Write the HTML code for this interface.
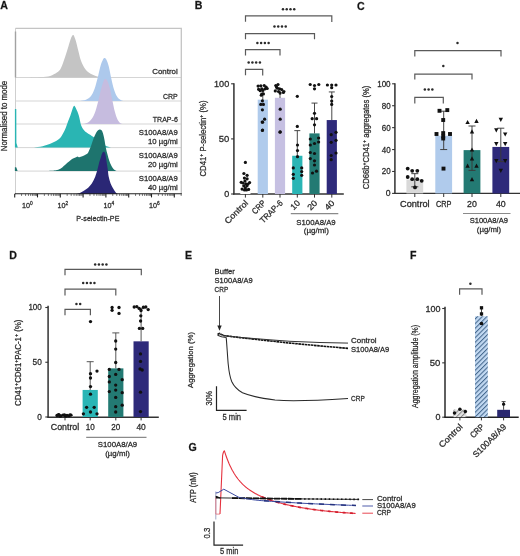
<!DOCTYPE html><html><head><meta charset="utf-8"><style>
html,body{margin:0;padding:0;background:#fff;width:520px;height:556px;overflow:hidden;}
svg{display:block;font-family:"Liberation Sans", sans-serif;will-change:transform;}
text{stroke:#2e2e2e;stroke-width:0.26px;}
</style></head><body>
<svg width="520" height="556" viewBox="0 0 520 556">
<rect width="520" height="556" fill="#fff"/>
<text x="0.30" y="9.30" font-size="10.60" text-anchor="start" fill="#111" font-weight="bold">A</text>
<line x1="15.50" y1="77.50" x2="181.30" y2="77.50" stroke="#d0d0d0" stroke-width="0.90"/>
<line x1="15.50" y1="101.00" x2="181.30" y2="101.00" stroke="#d0d0d0" stroke-width="0.90"/>
<line x1="15.50" y1="124.00" x2="181.30" y2="124.00" stroke="#d0d0d0" stroke-width="0.90"/>
<line x1="15.50" y1="147.60" x2="181.30" y2="147.60" stroke="#d0d0d0" stroke-width="0.90"/>
<line x1="15.50" y1="171.10" x2="181.30" y2="171.10" stroke="#d0d0d0" stroke-width="0.90"/>
<path d="M28.00,77.50 C30.13,77.43 37.10,77.37 40.80,77.10 C44.50,76.83 47.52,76.65 50.20,75.90 C52.88,75.15 55.10,73.93 56.90,72.60 C58.70,71.27 59.65,70.47 61.00,67.90 C62.35,65.33 63.77,60.78 65.00,57.20 C66.23,53.62 67.40,49.55 68.40,46.40 C69.40,43.25 70.33,40.10 71.00,38.30 C71.67,36.50 72.05,36.13 72.40,35.60 C72.75,35.07 72.85,35.07 73.10,35.10 C73.35,35.13 73.45,34.85 73.90,35.80 C74.35,36.75 75.03,38.18 75.80,40.80 C76.57,43.42 77.62,48.13 78.50,51.50 C79.38,54.87 79.98,58.08 81.10,61.00 C82.22,63.92 83.62,66.88 85.20,69.00 C86.78,71.12 88.58,72.47 90.60,73.70 C92.62,74.93 95.23,75.77 97.30,76.40 C99.37,77.03 102.05,77.32 103.00,77.50 L103.00,77.50 L28.00,77.50 Z" fill="#c4c4c4"/>
<path d="M80.00,101.00 C81.00,100.80 84.17,100.63 86.00,99.80 C87.83,98.97 89.58,97.80 91.00,96.00 C92.42,94.20 93.42,91.92 94.50,89.00 C95.58,86.08 96.50,82.33 97.50,78.50 C98.50,74.67 99.58,69.17 100.50,66.00 C101.42,62.83 102.33,60.83 103.00,59.50 C103.67,58.17 103.95,58.00 104.50,58.00 C105.05,58.00 105.58,58.08 106.30,59.50 C107.02,60.92 107.97,63.33 108.80,66.50 C109.63,69.67 110.43,74.67 111.30,78.50 C112.17,82.33 112.97,86.37 114.00,89.50 C115.03,92.63 116.22,95.47 117.50,97.30 C118.78,99.13 120.62,99.88 121.70,100.50 C122.78,101.12 123.62,100.92 124.00,101.00 L124.00,101.00 L80.00,101.00 Z" fill="#adc9ec"/>
<path d="M82.00,124.00 C82.92,123.78 85.83,123.62 87.50,122.70 C89.17,121.78 90.67,120.45 92.00,118.50 C93.33,116.55 94.42,114.08 95.50,111.00 C96.58,107.92 97.50,103.92 98.50,100.00 C99.50,96.08 100.58,90.78 101.50,87.50 C102.42,84.22 103.33,81.72 104.00,80.30 C104.67,78.88 104.97,78.97 105.50,79.00 C106.03,79.03 106.48,79.00 107.20,80.50 C107.92,82.00 108.95,84.75 109.80,88.00 C110.65,91.25 111.47,96.08 112.30,100.00 C113.13,103.92 113.93,108.25 114.80,111.50 C115.67,114.75 116.55,117.53 117.50,119.50 C118.45,121.47 119.58,122.55 120.50,123.30 C121.42,124.05 122.58,123.88 123.00,124.00 L123.00,124.00 L82.00,124.00 Z" fill="#c6bcdf"/>
<path d="M34.00,147.60 C35.45,147.38 39.72,147.05 42.70,146.30 C45.68,145.55 49.08,144.40 51.90,143.10 C54.72,141.80 57.75,140.10 59.60,138.50 C61.45,136.90 61.97,135.30 63.00,133.50 C64.03,131.70 64.93,129.78 65.80,127.70 C66.67,125.62 67.43,123.05 68.20,121.00 C68.97,118.95 69.67,117.43 70.40,115.40 C71.13,113.37 71.97,110.40 72.60,108.80 C73.23,107.20 73.65,105.88 74.20,105.80 C74.75,105.72 75.13,106.70 75.90,108.30 C76.67,109.90 77.92,112.52 78.80,115.40 C79.68,118.28 80.33,123.12 81.20,125.60 C82.07,128.08 82.98,129.07 84.00,130.30 C85.02,131.53 85.72,131.88 87.30,133.00 C88.88,134.12 91.38,135.50 93.50,137.00 C95.62,138.50 98.08,140.58 100.00,142.00 C101.92,143.42 103.17,144.57 105.00,145.50 C106.83,146.43 110.00,147.25 111.00,147.60 L111.00,147.60 L34.00,147.60 Z" fill="#2ab5b3"/>
<path d="M45.00,171.10 C46.17,171.05 50.17,170.93 52.00,170.80 C53.83,170.67 54.60,170.63 56.00,170.30 C57.40,169.97 59.07,169.55 60.40,168.80 C61.73,168.05 62.73,166.90 64.00,165.80 C65.27,164.70 66.92,163.13 68.00,162.20 C69.08,161.27 69.67,160.83 70.50,160.20 C71.33,159.57 72.17,158.85 73.00,158.40 C73.83,157.95 74.75,157.83 75.50,157.50 C76.25,157.17 76.88,156.43 77.50,156.40 C78.12,156.37 78.65,157.23 79.20,157.30 C79.75,157.37 79.98,157.12 80.80,156.80 C81.62,156.48 82.98,155.95 84.10,155.40 C85.22,154.85 86.62,154.43 87.50,153.50 C88.38,152.57 88.78,151.13 89.40,149.80 C90.02,148.47 90.57,147.22 91.20,145.50 C91.83,143.78 92.52,141.33 93.20,139.50 C93.88,137.67 94.62,135.92 95.30,134.50 C95.98,133.08 96.58,131.82 97.30,131.00 C98.02,130.18 98.85,129.67 99.60,129.60 C100.35,129.53 101.18,129.78 101.80,130.60 C102.42,131.42 102.85,132.93 103.30,134.50 C103.75,136.07 104.08,137.83 104.50,140.00 C104.92,142.17 105.30,145.07 105.80,147.50 C106.30,149.93 106.93,152.43 107.50,154.60 C108.07,156.77 108.65,158.87 109.20,160.50 C109.75,162.13 110.08,162.98 110.80,164.40 C111.52,165.82 112.55,167.88 113.50,169.00 C114.45,170.12 116.00,170.75 116.50,171.10 L116.50,171.10 L45.00,171.10 Z" fill="#1e746e"/>
<path d="M77.00,194.00 C77.78,193.68 79.95,193.05 81.70,192.10 C83.45,191.15 85.82,189.73 87.50,188.30 C89.18,186.87 90.52,185.43 91.80,183.50 C93.08,181.57 94.23,179.12 95.20,176.70 C96.17,174.28 96.92,171.45 97.60,169.00 C98.28,166.55 98.82,163.77 99.30,162.00 C99.78,160.23 100.02,159.87 100.50,158.40 C100.98,156.93 101.65,154.32 102.20,153.20 C102.75,152.08 103.30,151.65 103.80,151.70 C104.30,151.75 104.79,152.22 105.20,153.50 C105.61,154.78 105.83,156.82 106.25,159.40 C106.67,161.98 107.29,166.12 107.70,169.00 C108.11,171.88 108.22,174.28 108.70,176.70 C109.18,179.12 109.88,181.57 110.60,183.50 C111.32,185.43 112.20,186.87 113.00,188.30 C113.80,189.73 114.65,191.15 115.40,192.10 C116.15,193.05 117.15,193.68 117.50,194.00 L117.50,194.00 L77.00,194.00 Z" fill="#2a2775"/>
<path d="M15.50,28.30 H181.30 V194.00" fill="none" stroke="#c4c4c4" stroke-width="1.3"/>
<line x1="15.50" y1="28.00" x2="15.50" y2="194.50" stroke="#cfcfcf" stroke-width="1.00"/>
<rect x="14.80" y="31.50" width="1.40" height="46.00" fill="#a2a2a2"/>
<path d="M14.9,109 L16.3,109 L16.4,143 L17.8,147.6 L14.9,147.6 Z" fill="#2ab5b3"/>
<path d="M14.9,167.3 L16.2,167.3 L17.6,171.1 L14.9,171.1 Z" fill="#1e746e"/>
<line x1="15.00" y1="193.80" x2="181.80" y2="193.80" stroke="#222" stroke-width="1.10"/>
<line x1="14.70" y1="193.80" x2="14.70" y2="197.40" stroke="#222" stroke-width="1.10"/>
<line x1="21.56" y1="193.80" x2="21.56" y2="195.90" stroke="#333" stroke-width="0.70"/>
<line x1="25.58" y1="193.80" x2="25.58" y2="195.90" stroke="#333" stroke-width="0.70"/>
<line x1="28.43" y1="193.80" x2="28.43" y2="195.90" stroke="#333" stroke-width="0.70"/>
<line x1="30.64" y1="193.80" x2="30.64" y2="195.90" stroke="#333" stroke-width="0.70"/>
<line x1="32.44" y1="193.80" x2="32.44" y2="195.90" stroke="#333" stroke-width="0.70"/>
<line x1="33.97" y1="193.80" x2="33.97" y2="195.90" stroke="#333" stroke-width="0.70"/>
<line x1="35.29" y1="193.80" x2="35.29" y2="195.90" stroke="#333" stroke-width="0.70"/>
<line x1="36.46" y1="193.80" x2="36.46" y2="195.90" stroke="#333" stroke-width="0.70"/>
<line x1="37.50" y1="193.80" x2="37.50" y2="197.40" stroke="#222" stroke-width="1.10"/>
<line x1="44.36" y1="193.80" x2="44.36" y2="195.90" stroke="#333" stroke-width="0.70"/>
<line x1="48.38" y1="193.80" x2="48.38" y2="195.90" stroke="#333" stroke-width="0.70"/>
<line x1="51.23" y1="193.80" x2="51.23" y2="195.90" stroke="#333" stroke-width="0.70"/>
<line x1="53.44" y1="193.80" x2="53.44" y2="195.90" stroke="#333" stroke-width="0.70"/>
<line x1="55.24" y1="193.80" x2="55.24" y2="195.90" stroke="#333" stroke-width="0.70"/>
<line x1="56.77" y1="193.80" x2="56.77" y2="195.90" stroke="#333" stroke-width="0.70"/>
<line x1="58.09" y1="193.80" x2="58.09" y2="195.90" stroke="#333" stroke-width="0.70"/>
<line x1="59.26" y1="193.80" x2="59.26" y2="195.90" stroke="#333" stroke-width="0.70"/>
<line x1="60.30" y1="193.80" x2="60.30" y2="197.40" stroke="#222" stroke-width="1.10"/>
<line x1="67.16" y1="193.80" x2="67.16" y2="195.90" stroke="#333" stroke-width="0.70"/>
<line x1="71.18" y1="193.80" x2="71.18" y2="195.90" stroke="#333" stroke-width="0.70"/>
<line x1="74.03" y1="193.80" x2="74.03" y2="195.90" stroke="#333" stroke-width="0.70"/>
<line x1="76.24" y1="193.80" x2="76.24" y2="195.90" stroke="#333" stroke-width="0.70"/>
<line x1="78.04" y1="193.80" x2="78.04" y2="195.90" stroke="#333" stroke-width="0.70"/>
<line x1="79.57" y1="193.80" x2="79.57" y2="195.90" stroke="#333" stroke-width="0.70"/>
<line x1="80.89" y1="193.80" x2="80.89" y2="195.90" stroke="#333" stroke-width="0.70"/>
<line x1="82.06" y1="193.80" x2="82.06" y2="195.90" stroke="#333" stroke-width="0.70"/>
<line x1="83.10" y1="193.80" x2="83.10" y2="197.40" stroke="#222" stroke-width="1.10"/>
<line x1="89.96" y1="193.80" x2="89.96" y2="195.90" stroke="#333" stroke-width="0.70"/>
<line x1="93.98" y1="193.80" x2="93.98" y2="195.90" stroke="#333" stroke-width="0.70"/>
<line x1="96.83" y1="193.80" x2="96.83" y2="195.90" stroke="#333" stroke-width="0.70"/>
<line x1="99.04" y1="193.80" x2="99.04" y2="195.90" stroke="#333" stroke-width="0.70"/>
<line x1="100.84" y1="193.80" x2="100.84" y2="195.90" stroke="#333" stroke-width="0.70"/>
<line x1="102.37" y1="193.80" x2="102.37" y2="195.90" stroke="#333" stroke-width="0.70"/>
<line x1="103.69" y1="193.80" x2="103.69" y2="195.90" stroke="#333" stroke-width="0.70"/>
<line x1="104.86" y1="193.80" x2="104.86" y2="195.90" stroke="#333" stroke-width="0.70"/>
<line x1="105.90" y1="193.80" x2="105.90" y2="197.40" stroke="#222" stroke-width="1.10"/>
<line x1="112.76" y1="193.80" x2="112.76" y2="195.90" stroke="#333" stroke-width="0.70"/>
<line x1="116.78" y1="193.80" x2="116.78" y2="195.90" stroke="#333" stroke-width="0.70"/>
<line x1="119.63" y1="193.80" x2="119.63" y2="195.90" stroke="#333" stroke-width="0.70"/>
<line x1="121.84" y1="193.80" x2="121.84" y2="195.90" stroke="#333" stroke-width="0.70"/>
<line x1="123.64" y1="193.80" x2="123.64" y2="195.90" stroke="#333" stroke-width="0.70"/>
<line x1="125.17" y1="193.80" x2="125.17" y2="195.90" stroke="#333" stroke-width="0.70"/>
<line x1="126.49" y1="193.80" x2="126.49" y2="195.90" stroke="#333" stroke-width="0.70"/>
<line x1="127.66" y1="193.80" x2="127.66" y2="195.90" stroke="#333" stroke-width="0.70"/>
<line x1="128.70" y1="193.80" x2="128.70" y2="197.40" stroke="#222" stroke-width="1.10"/>
<line x1="135.56" y1="193.80" x2="135.56" y2="195.90" stroke="#333" stroke-width="0.70"/>
<line x1="139.58" y1="193.80" x2="139.58" y2="195.90" stroke="#333" stroke-width="0.70"/>
<line x1="142.43" y1="193.80" x2="142.43" y2="195.90" stroke="#333" stroke-width="0.70"/>
<line x1="144.64" y1="193.80" x2="144.64" y2="195.90" stroke="#333" stroke-width="0.70"/>
<line x1="146.44" y1="193.80" x2="146.44" y2="195.90" stroke="#333" stroke-width="0.70"/>
<line x1="147.97" y1="193.80" x2="147.97" y2="195.90" stroke="#333" stroke-width="0.70"/>
<line x1="149.29" y1="193.80" x2="149.29" y2="195.90" stroke="#333" stroke-width="0.70"/>
<line x1="150.46" y1="193.80" x2="150.46" y2="195.90" stroke="#333" stroke-width="0.70"/>
<line x1="151.50" y1="193.80" x2="151.50" y2="197.40" stroke="#222" stroke-width="1.10"/>
<line x1="158.36" y1="193.80" x2="158.36" y2="195.90" stroke="#333" stroke-width="0.70"/>
<line x1="162.38" y1="193.80" x2="162.38" y2="195.90" stroke="#333" stroke-width="0.70"/>
<line x1="165.23" y1="193.80" x2="165.23" y2="195.90" stroke="#333" stroke-width="0.70"/>
<line x1="167.44" y1="193.80" x2="167.44" y2="195.90" stroke="#333" stroke-width="0.70"/>
<line x1="169.24" y1="193.80" x2="169.24" y2="195.90" stroke="#333" stroke-width="0.70"/>
<line x1="170.77" y1="193.80" x2="170.77" y2="195.90" stroke="#333" stroke-width="0.70"/>
<line x1="172.09" y1="193.80" x2="172.09" y2="195.90" stroke="#333" stroke-width="0.70"/>
<line x1="173.26" y1="193.80" x2="173.26" y2="195.90" stroke="#333" stroke-width="0.70"/>
<line x1="174.30" y1="193.80" x2="174.30" y2="197.40" stroke="#222" stroke-width="1.10"/>
<line x1="181.16" y1="193.80" x2="181.16" y2="195.90" stroke="#333" stroke-width="0.70"/>
<text x="22.00" y="208.30" font-size="7.2" text-anchor="start" fill="#262626">10<tspan dy="-3.2" font-size="4.8">0</tspan></text>
<text x="57.50" y="208.30" font-size="7.2" text-anchor="start" fill="#262626">10<tspan dy="-3.2" font-size="4.8">2</tspan></text>
<text x="103.40" y="208.30" font-size="7.2" text-anchor="start" fill="#262626">10<tspan dy="-3.2" font-size="4.8">4</tspan></text>
<text x="149.00" y="208.30" font-size="7.2" text-anchor="start" fill="#262626">10<tspan dy="-3.2" font-size="4.8">6</tspan></text>
<text x="76.20" y="220.60" font-size="8.00" text-anchor="start" fill="#262626" font-weight="normal" textLength="43.20" lengthAdjust="spacingAndGlyphs">P-selectin-PE</text>
<text x="7.00" y="116.00" font-size="8.30" text-anchor="middle" fill="#262626" font-weight="normal" transform="rotate(-90 7.00 116.00)" textLength="70.50" lengthAdjust="spacingAndGlyphs">Normalised to mode</text>
<text x="177.80" y="74.00" font-size="8.00" text-anchor="end" fill="#262626" font-weight="normal" textLength="25.60" lengthAdjust="spacingAndGlyphs">Control</text>
<text x="177.80" y="99.00" font-size="8.00" text-anchor="end" fill="#262626" font-weight="normal" textLength="14.80" lengthAdjust="spacingAndGlyphs">CRP</text>
<text x="177.80" y="121.60" font-size="8.00" text-anchor="end" fill="#262626" font-weight="normal" textLength="25.00" lengthAdjust="spacingAndGlyphs">TRAP-6</text>
<text x="177.80" y="134.90" font-size="8.00" text-anchor="end" fill="#262626" font-weight="normal" textLength="39.00" lengthAdjust="spacingAndGlyphs">S100A8/A9</text>
<text x="177.80" y="143.50" font-size="8.00" text-anchor="end" fill="#262626" font-weight="normal" textLength="29.80" lengthAdjust="spacingAndGlyphs">10 µg/ml</text>
<text x="177.80" y="158.00" font-size="8.00" text-anchor="end" fill="#262626" font-weight="normal" textLength="39.00" lengthAdjust="spacingAndGlyphs">S100A8/A9</text>
<text x="177.80" y="166.60" font-size="8.00" text-anchor="end" fill="#262626" font-weight="normal" textLength="29.80" lengthAdjust="spacingAndGlyphs">20 µg/ml</text>
<text x="177.80" y="181.20" font-size="8.00" text-anchor="end" fill="#262626" font-weight="normal" textLength="39.00" lengthAdjust="spacingAndGlyphs">S100A8/A9</text>
<text x="177.80" y="189.90" font-size="8.00" text-anchor="end" fill="#262626" font-weight="normal" textLength="29.80" lengthAdjust="spacingAndGlyphs">40 µg/ml</text>
<text x="194.70" y="9.20" font-size="10.60" text-anchor="start" fill="#111" font-weight="bold">B</text>
<line x1="233.90" y1="83.20" x2="233.90" y2="194.60" stroke="#4a4a4a" stroke-width="1.70"/>
<line x1="233.10" y1="194.00" x2="343.80" y2="194.00" stroke="#333" stroke-width="1.40"/>
<line x1="231.10" y1="194.00" x2="233.90" y2="194.00" stroke="#333" stroke-width="1.10"/>
<text x="229.20" y="197.00" font-size="8.60" text-anchor="end" fill="#262626" font-weight="normal" textLength="5.00" lengthAdjust="spacingAndGlyphs">0</text>
<line x1="231.10" y1="138.90" x2="233.90" y2="138.90" stroke="#333" stroke-width="1.10"/>
<text x="229.20" y="141.90" font-size="8.60" text-anchor="end" fill="#262626" font-weight="normal" textLength="10.50" lengthAdjust="spacingAndGlyphs">50</text>
<line x1="231.10" y1="83.80" x2="233.90" y2="83.80" stroke="#333" stroke-width="1.10"/>
<text x="229.20" y="86.80" font-size="8.60" text-anchor="end" fill="#262626" font-weight="normal" textLength="15.20" lengthAdjust="spacingAndGlyphs">100</text>
<rect x="240.30" y="184.08" width="10.20" height="9.92" fill="#ffffff"/>
<rect x="257.70" y="99.67" width="10.20" height="94.33" fill="#b0cbec"/>
<rect x="274.90" y="97.80" width="10.20" height="96.20" fill="#c6c0e2"/>
<rect x="292.20" y="155.76" width="10.20" height="38.24" fill="#2ab5b5"/>
<rect x="309.40" y="133.39" width="10.20" height="60.61" fill="#237a73"/>
<rect x="326.70" y="120.06" width="10.20" height="73.94" fill="#2e2a7a"/>
<line x1="245.40" y1="194.00" x2="245.40" y2="197.60" stroke="#333" stroke-width="1.00"/>
<line x1="262.80" y1="194.00" x2="262.80" y2="197.60" stroke="#333" stroke-width="1.00"/>
<line x1="280.00" y1="194.00" x2="280.00" y2="197.60" stroke="#333" stroke-width="1.00"/>
<line x1="297.30" y1="194.00" x2="297.30" y2="197.60" stroke="#333" stroke-width="1.00"/>
<line x1="314.50" y1="194.00" x2="314.50" y2="197.60" stroke="#333" stroke-width="1.00"/>
<line x1="331.80" y1="194.00" x2="331.80" y2="197.60" stroke="#333" stroke-width="1.00"/>
<line x1="297.30" y1="130.63" x2="297.30" y2="155.76" stroke="#333" stroke-width="0.90"/>
<line x1="294.30" y1="130.63" x2="300.30" y2="130.63" stroke="#333" stroke-width="0.90"/>
<line x1="314.50" y1="103.08" x2="314.50" y2="133.39" stroke="#333" stroke-width="0.90"/>
<line x1="311.50" y1="103.08" x2="317.50" y2="103.08" stroke="#333" stroke-width="0.90"/>
<line x1="331.80" y1="91.95" x2="331.80" y2="120.06" stroke="#333" stroke-width="0.90"/>
<line x1="328.80" y1="91.95" x2="334.80" y2="91.95" stroke="#333" stroke-width="0.90"/>
<line x1="262.80" y1="92.00" x2="262.80" y2="100.00" stroke="#444" stroke-width="0.90"/>
<line x1="280.00" y1="91.00" x2="280.00" y2="98.00" stroke="#444" stroke-width="0.90"/>
<circle cx="245.40" cy="162.40" r="1.60" fill="#111"/>
<circle cx="243.90" cy="173.50" r="1.60" fill="#111"/>
<circle cx="247.10" cy="175.30" r="1.60" fill="#111"/>
<circle cx="244.40" cy="178.10" r="1.60" fill="#111"/>
<circle cx="247.10" cy="178.80" r="1.60" fill="#111"/>
<circle cx="241.20" cy="182.30" r="1.60" fill="#111"/>
<circle cx="249.60" cy="182.60" r="1.60" fill="#111"/>
<circle cx="245.70" cy="183.90" r="1.60" fill="#111"/>
<circle cx="243.80" cy="185.80" r="1.60" fill="#111"/>
<circle cx="247.00" cy="185.80" r="1.60" fill="#111"/>
<circle cx="242.10" cy="189.10" r="1.60" fill="#111"/>
<circle cx="248.60" cy="189.40" r="1.60" fill="#111"/>
<circle cx="245.40" cy="187.80" r="1.60" fill="#111"/>
<circle cx="245.00" cy="181.00" r="1.60" fill="#111"/>
<circle cx="243.00" cy="183.00" r="1.60" fill="#111"/>
<circle cx="248.00" cy="184.00" r="1.60" fill="#111"/>
<circle cx="244.50" cy="190.00" r="1.60" fill="#111"/>
<circle cx="246.50" cy="190.00" r="1.60" fill="#111"/>
<circle cx="258.10" cy="86.10" r="1.60" fill="#111"/>
<circle cx="260.80" cy="85.80" r="1.60" fill="#111"/>
<circle cx="264.20" cy="85.50" r="1.60" fill="#111"/>
<circle cx="266.10" cy="87.10" r="1.60" fill="#111"/>
<circle cx="258.60" cy="89.30" r="1.60" fill="#111"/>
<circle cx="261.80" cy="88.80" r="1.60" fill="#111"/>
<circle cx="265.10" cy="88.80" r="1.60" fill="#111"/>
<circle cx="267.20" cy="88.50" r="1.60" fill="#111"/>
<circle cx="260.20" cy="90.70" r="1.60" fill="#111"/>
<circle cx="262.90" cy="90.40" r="1.60" fill="#111"/>
<circle cx="261.80" cy="94.10" r="1.60" fill="#111"/>
<circle cx="263.40" cy="93.90" r="1.60" fill="#111"/>
<circle cx="261.30" cy="95.20" r="1.60" fill="#111"/>
<circle cx="262.40" cy="100.80" r="1.60" fill="#111"/>
<circle cx="260.80" cy="104.40" r="1.60" fill="#111"/>
<circle cx="263.40" cy="104.40" r="1.60" fill="#111"/>
<circle cx="262.40" cy="109.80" r="1.60" fill="#111"/>
<circle cx="264.60" cy="119.20" r="1.60" fill="#111"/>
<circle cx="262.20" cy="122.10" r="1.60" fill="#111"/>
<circle cx="262.40" cy="130.40" r="1.60" fill="#111"/>
<circle cx="262.60" cy="122.20" r="1.60" fill="#111"/>
<circle cx="262.60" cy="130.00" r="1.60" fill="#111"/>
<circle cx="275.80" cy="85.50" r="1.60" fill="#111"/>
<circle cx="278.00" cy="84.50" r="1.60" fill="#111"/>
<circle cx="277.40" cy="88.20" r="1.60" fill="#111"/>
<circle cx="279.60" cy="88.80" r="1.60" fill="#111"/>
<circle cx="275.30" cy="90.90" r="1.60" fill="#111"/>
<circle cx="278.50" cy="91.50" r="1.60" fill="#111"/>
<circle cx="281.70" cy="89.60" r="1.60" fill="#111"/>
<circle cx="283.90" cy="91.50" r="1.60" fill="#111"/>
<circle cx="280.10" cy="93.10" r="1.60" fill="#111"/>
<circle cx="283.40" cy="92.50" r="1.60" fill="#111"/>
<circle cx="276.50" cy="87.00" r="1.60" fill="#111"/>
<circle cx="280.20" cy="109.20" r="1.60" fill="#111"/>
<circle cx="280.20" cy="119.20" r="1.60" fill="#111"/>
<circle cx="280.20" cy="131.80" r="1.60" fill="#111"/>
<circle cx="280.00" cy="132.20" r="1.60" fill="#111"/>
<circle cx="297.30" cy="96.30" r="1.60" fill="#111"/>
<circle cx="297.30" cy="126.40" r="1.60" fill="#111"/>
<circle cx="297.50" cy="145.00" r="1.60" fill="#111"/>
<circle cx="297.50" cy="150.60" r="1.60" fill="#111"/>
<circle cx="297.50" cy="156.70" r="1.60" fill="#111"/>
<circle cx="293.30" cy="167.90" r="1.60" fill="#111"/>
<circle cx="301.70" cy="167.90" r="1.60" fill="#111"/>
<circle cx="301.70" cy="171.60" r="1.60" fill="#111"/>
<circle cx="293.30" cy="174.30" r="1.60" fill="#111"/>
<circle cx="301.70" cy="175.30" r="1.60" fill="#111"/>
<circle cx="293.30" cy="178.30" r="1.60" fill="#111"/>
<circle cx="310.20" cy="84.50" r="1.60" fill="#111"/>
<circle cx="314.50" cy="85.50" r="1.60" fill="#111"/>
<circle cx="318.80" cy="84.50" r="1.60" fill="#111"/>
<circle cx="314.50" cy="88.80" r="1.60" fill="#111"/>
<circle cx="314.50" cy="113.30" r="1.60" fill="#111"/>
<circle cx="312.20" cy="118.70" r="1.60" fill="#111"/>
<circle cx="316.60" cy="118.70" r="1.60" fill="#111"/>
<circle cx="314.50" cy="124.80" r="1.60" fill="#111"/>
<circle cx="310.30" cy="139.00" r="1.60" fill="#111"/>
<circle cx="318.60" cy="138.00" r="1.60" fill="#111"/>
<circle cx="318.60" cy="142.00" r="1.60" fill="#111"/>
<circle cx="314.50" cy="143.50" r="1.60" fill="#111"/>
<circle cx="310.30" cy="145.00" r="1.60" fill="#111"/>
<circle cx="310.30" cy="152.50" r="1.60" fill="#111"/>
<circle cx="314.50" cy="153.50" r="1.60" fill="#111"/>
<circle cx="310.30" cy="158.60" r="1.60" fill="#111"/>
<circle cx="314.50" cy="160.80" r="1.60" fill="#111"/>
<circle cx="314.50" cy="165.00" r="1.60" fill="#111"/>
<circle cx="316.50" cy="171.20" r="1.60" fill="#111"/>
<circle cx="312.50" cy="173.00" r="1.60" fill="#111"/>
<circle cx="327.40" cy="85.00" r="1.60" fill="#111"/>
<circle cx="331.70" cy="85.00" r="1.60" fill="#111"/>
<circle cx="336.00" cy="85.00" r="1.60" fill="#111"/>
<circle cx="331.70" cy="87.70" r="1.60" fill="#111"/>
<circle cx="331.70" cy="96.50" r="1.60" fill="#111"/>
<circle cx="331.70" cy="101.10" r="1.60" fill="#111"/>
<circle cx="331.70" cy="104.40" r="1.60" fill="#111"/>
<circle cx="331.20" cy="134.70" r="1.60" fill="#111"/>
<circle cx="336.00" cy="132.30" r="1.60" fill="#111"/>
<circle cx="336.00" cy="140.30" r="1.60" fill="#111"/>
<circle cx="331.20" cy="142.30" r="1.60" fill="#111"/>
<circle cx="336.00" cy="153.00" r="1.60" fill="#111"/>
<circle cx="331.20" cy="155.50" r="1.60" fill="#111"/>
<circle cx="331.20" cy="159.70" r="1.60" fill="#111"/>
<path d="M245.50,21.80 V15.90 H331.80 V22.00" fill="none" stroke="#5a5a5a" stroke-width="1.2"/>
<circle cx="282.98" cy="9.15" r="1.25" fill="#2a2a2a"/>
<circle cx="286.73" cy="9.15" r="1.25" fill="#2a2a2a"/>
<circle cx="290.48" cy="9.15" r="1.25" fill="#2a2a2a"/>
<circle cx="294.23" cy="9.15" r="1.25" fill="#2a2a2a"/>
<path d="M245.50,39.20 V33.60 H314.50 V39.30" fill="none" stroke="#5a5a5a" stroke-width="1.2"/>
<circle cx="274.48" cy="26.60" r="1.25" fill="#2a2a2a"/>
<circle cx="278.23" cy="26.60" r="1.25" fill="#2a2a2a"/>
<circle cx="281.98" cy="26.60" r="1.25" fill="#2a2a2a"/>
<circle cx="285.73" cy="26.60" r="1.25" fill="#2a2a2a"/>
<path d="M245.50,55.40 V49.70 H280.00 V55.60" fill="none" stroke="#5a5a5a" stroke-width="1.2"/>
<circle cx="257.38" cy="43.10" r="1.25" fill="#2a2a2a"/>
<circle cx="261.12" cy="43.10" r="1.25" fill="#2a2a2a"/>
<circle cx="264.88" cy="43.10" r="1.25" fill="#2a2a2a"/>
<circle cx="268.62" cy="43.10" r="1.25" fill="#2a2a2a"/>
<path d="M245.50,75.20 V69.30 H262.70 V75.40" fill="none" stroke="#5a5a5a" stroke-width="1.2"/>
<circle cx="248.68" cy="62.40" r="1.25" fill="#2a2a2a"/>
<circle cx="252.43" cy="62.40" r="1.25" fill="#2a2a2a"/>
<circle cx="256.18" cy="62.40" r="1.25" fill="#2a2a2a"/>
<circle cx="259.93" cy="62.40" r="1.25" fill="#2a2a2a"/>
<text x="248.80" y="203.60" font-size="8.50" text-anchor="end" fill="#262626" font-weight="normal" transform="rotate(-45 248.80 203.60)" textLength="29.50" lengthAdjust="spacingAndGlyphs">Control</text>
<text x="266.20" y="203.60" font-size="8.50" text-anchor="end" fill="#262626" font-weight="normal" transform="rotate(-45 266.20 203.60)" textLength="15.60" lengthAdjust="spacingAndGlyphs">CRP</text>
<text x="283.40" y="203.60" font-size="8.50" text-anchor="end" fill="#262626" font-weight="normal" transform="rotate(-45 283.40 203.60)" textLength="28.50" lengthAdjust="spacingAndGlyphs">TRAP-6</text>
<text x="300.70" y="203.60" font-size="8.50" text-anchor="end" fill="#262626" font-weight="normal" transform="rotate(-45 300.70 203.60)" textLength="9.80" lengthAdjust="spacingAndGlyphs">10</text>
<text x="317.90" y="203.60" font-size="8.50" text-anchor="end" fill="#262626" font-weight="normal" transform="rotate(-45 317.90 203.60)" textLength="10.20" lengthAdjust="spacingAndGlyphs">20</text>
<text x="335.20" y="203.60" font-size="8.50" text-anchor="end" fill="#262626" font-weight="normal" transform="rotate(-45 335.20 203.60)" textLength="10.20" lengthAdjust="spacingAndGlyphs">40</text>
<line x1="290.80" y1="213.70" x2="338.30" y2="213.70" stroke="#8a8a8a" stroke-width="1.20"/>
<text x="316.00" y="224.50" font-size="7.80" text-anchor="middle" fill="#262626" font-weight="normal" textLength="39.30" lengthAdjust="spacingAndGlyphs">S100A8/A9</text>
<text x="316.30" y="232.80" font-size="7.80" text-anchor="middle" fill="#262626" font-weight="normal" textLength="25.00" lengthAdjust="spacingAndGlyphs">(µg/ml)</text>
<text x="206.00" y="138.50" font-size="8.40" text-anchor="middle" fill="#262626" transform="rotate(-90 206.00 138.50)" textLength="76.00" lengthAdjust="spacingAndGlyphs"><tspan>CD41</tspan><tspan dy="-3.02" font-size="5.54">+</tspan><tspan dy="3.02"> P-selectin</tspan><tspan dy="-3.02" font-size="5.54">+</tspan><tspan dy="3.02"> (%)</tspan></text>
<text x="357.00" y="9.50" font-size="10.60" text-anchor="start" fill="#111" font-weight="bold">C</text>
<line x1="394.90" y1="83.20" x2="394.90" y2="194.00" stroke="#4a4a4a" stroke-width="1.70"/>
<line x1="394.10" y1="193.40" x2="520.00" y2="193.40" stroke="#333" stroke-width="1.40"/>
<line x1="392.10" y1="193.40" x2="394.90" y2="193.40" stroke="#333" stroke-width="1.10"/>
<text x="390.60" y="196.35" font-size="8.30" text-anchor="end" fill="#262626" font-weight="normal" textLength="4.80" lengthAdjust="spacingAndGlyphs">0</text>
<line x1="392.10" y1="171.48" x2="394.90" y2="171.48" stroke="#333" stroke-width="1.10"/>
<text x="390.60" y="174.43" font-size="8.30" text-anchor="end" fill="#262626" font-weight="normal" textLength="8.90" lengthAdjust="spacingAndGlyphs">20</text>
<line x1="392.10" y1="149.56" x2="394.90" y2="149.56" stroke="#333" stroke-width="1.10"/>
<text x="390.60" y="152.51" font-size="8.30" text-anchor="end" fill="#262626" font-weight="normal" textLength="8.90" lengthAdjust="spacingAndGlyphs">40</text>
<line x1="392.10" y1="127.64" x2="394.90" y2="127.64" stroke="#333" stroke-width="1.10"/>
<text x="390.60" y="130.59" font-size="8.30" text-anchor="end" fill="#262626" font-weight="normal" textLength="8.90" lengthAdjust="spacingAndGlyphs">60</text>
<line x1="392.10" y1="105.72" x2="394.90" y2="105.72" stroke="#333" stroke-width="1.10"/>
<text x="390.60" y="108.67" font-size="8.30" text-anchor="end" fill="#262626" font-weight="normal" textLength="8.90" lengthAdjust="spacingAndGlyphs">80</text>
<line x1="392.10" y1="83.80" x2="394.90" y2="83.80" stroke="#333" stroke-width="1.10"/>
<text x="390.60" y="86.75" font-size="8.30" text-anchor="end" fill="#262626" font-weight="normal" textLength="13.40" lengthAdjust="spacingAndGlyphs">100</text>
<rect x="406.40" y="179.59" width="16.80" height="13.81" fill="#d9d9d9"/>
<line x1="414.80" y1="193.40" x2="414.80" y2="197.00" stroke="#333" stroke-width="1.00"/>
<rect x="435.30" y="135.75" width="16.80" height="57.65" fill="#b0cbec"/>
<line x1="443.70" y1="193.40" x2="443.70" y2="197.00" stroke="#333" stroke-width="1.00"/>
<rect x="463.60" y="150.11" width="16.80" height="43.29" fill="#237a73"/>
<line x1="472.00" y1="193.40" x2="472.00" y2="197.00" stroke="#333" stroke-width="1.00"/>
<rect x="492.40" y="146.93" width="16.80" height="46.47" fill="#2e2a7a"/>
<line x1="500.80" y1="193.40" x2="500.80" y2="197.00" stroke="#333" stroke-width="1.00"/>
<line x1="414.80" y1="173.67" x2="414.80" y2="186.82" stroke="#3a3a3a" stroke-width="0.95"/>
<line x1="411.30" y1="173.67" x2="418.30" y2="173.67" stroke="#3a3a3a" stroke-width="0.95"/>
<line x1="411.30" y1="186.82" x2="418.30" y2="186.82" stroke="#3a3a3a" stroke-width="0.95"/>
<line x1="443.70" y1="111.20" x2="443.70" y2="149.56" stroke="#3a3a3a" stroke-width="0.95"/>
<line x1="440.20" y1="111.20" x2="447.20" y2="111.20" stroke="#3a3a3a" stroke-width="0.95"/>
<line x1="440.20" y1="149.56" x2="447.20" y2="149.56" stroke="#3a3a3a" stroke-width="0.95"/>
<line x1="472.00" y1="126.00" x2="472.00" y2="170.38" stroke="#3a3a3a" stroke-width="0.95"/>
<line x1="468.50" y1="126.00" x2="475.50" y2="126.00" stroke="#3a3a3a" stroke-width="0.95"/>
<line x1="468.50" y1="170.38" x2="475.50" y2="170.38" stroke="#3a3a3a" stroke-width="0.95"/>
<line x1="500.80" y1="128.19" x2="500.80" y2="161.62" stroke="#3a3a3a" stroke-width="0.95"/>
<line x1="497.30" y1="128.19" x2="504.30" y2="128.19" stroke="#3a3a3a" stroke-width="0.95"/>
<line x1="497.30" y1="161.62" x2="504.30" y2="161.62" stroke="#3a3a3a" stroke-width="0.95"/>
<circle cx="407.70" cy="168.60" r="1.90" fill="#111"/>
<circle cx="412.20" cy="170.80" r="1.90" fill="#111"/>
<circle cx="417.30" cy="170.80" r="1.90" fill="#111"/>
<circle cx="407.70" cy="177.00" r="1.90" fill="#111"/>
<circle cx="412.20" cy="179.20" r="1.90" fill="#111"/>
<circle cx="417.30" cy="179.20" r="1.90" fill="#111"/>
<circle cx="421.70" cy="180.80" r="1.90" fill="#111"/>
<circle cx="415.00" cy="187.40" r="1.90" fill="#111"/>
<rect x="437.55" y="108.85" width="3.90" height="3.90" fill="#111"/>
<rect x="445.35" y="108.15" width="3.90" height="3.90" fill="#111"/>
<rect x="441.25" y="118.05" width="3.90" height="3.90" fill="#111"/>
<rect x="434.55" y="132.05" width="3.90" height="3.90" fill="#111"/>
<rect x="441.25" y="131.15" width="3.90" height="3.90" fill="#111"/>
<rect x="441.25" y="134.55" width="3.90" height="3.90" fill="#111"/>
<rect x="441.25" y="136.55" width="3.90" height="3.90" fill="#111"/>
<rect x="448.05" y="132.05" width="3.90" height="3.90" fill="#111"/>
<rect x="441.55" y="166.65" width="3.90" height="3.90" fill="#111"/>
<polygon points="467.60,119.89 465.40,124.01 469.80,124.01" fill="#111"/>
<polygon points="476.50,118.79 474.30,122.91 478.70,122.91" fill="#111"/>
<polygon points="472.00,129.29 469.80,133.41 474.20,133.41" fill="#111"/>
<polygon points="472.00,147.39 469.80,151.51 474.20,151.51" fill="#111"/>
<polygon points="472.00,156.29 469.80,160.41 474.20,160.41" fill="#111"/>
<polygon points="467.60,163.59 465.40,167.71 469.80,167.71" fill="#111"/>
<polygon points="476.50,163.59 474.30,167.71 478.70,167.71" fill="#111"/>
<polygon points="472.00,177.09 469.80,181.21 474.20,181.21" fill="#111"/>
<polygon points="500.80,121.91 498.60,117.79 503.00,117.79" fill="#111"/>
<polygon points="496.30,132.41 494.10,128.29 498.50,128.29" fill="#111"/>
<polygon points="505.20,136.51 503.00,132.39 507.40,132.39" fill="#111"/>
<polygon points="496.30,146.21 494.10,142.09 498.50,142.09" fill="#111"/>
<polygon points="505.20,146.21 503.00,142.09 507.40,142.09" fill="#111"/>
<polygon points="496.30,163.21 494.10,159.09 498.50,159.09" fill="#111"/>
<polygon points="505.20,163.21 503.00,159.09 507.40,159.09" fill="#111"/>
<polygon points="500.80,172.91 498.60,168.79 503.00,168.79" fill="#111"/>
<path d="M414.80,56.60 V50.60 H501.00 V56.60" fill="none" stroke="#5a5a5a" stroke-width="1.2"/>
<circle cx="457.50" cy="43.00" r="1.25" fill="#2a2a2a"/>
<path d="M414.80,79.50 V74.20 H472.00 V79.50" fill="none" stroke="#5a5a5a" stroke-width="1.2"/>
<circle cx="443.30" cy="65.90" r="1.25" fill="#2a2a2a"/>
<path d="M414.80,103.40 V97.40 H443.30 V103.40" fill="none" stroke="#5a5a5a" stroke-width="1.2"/>
<circle cx="424.85" cy="89.60" r="1.25" fill="#2a2a2a"/>
<circle cx="428.60" cy="89.60" r="1.25" fill="#2a2a2a"/>
<circle cx="432.35" cy="89.60" r="1.25" fill="#2a2a2a"/>
<text x="414.80" y="206.50" font-size="8.40" text-anchor="middle" fill="#262626" font-weight="normal" textLength="29.60" lengthAdjust="spacingAndGlyphs">Control</text>
<text x="443.70" y="206.50" font-size="8.40" text-anchor="middle" fill="#262626" font-weight="normal" textLength="15.60" lengthAdjust="spacingAndGlyphs">CRP</text>
<text x="472.00" y="206.50" font-size="8.40" text-anchor="middle" fill="#262626" font-weight="normal" textLength="9.80" lengthAdjust="spacingAndGlyphs">20</text>
<text x="500.80" y="206.50" font-size="8.40" text-anchor="middle" fill="#262626" font-weight="normal" textLength="9.80" lengthAdjust="spacingAndGlyphs">40</text>
<line x1="463.00" y1="213.50" x2="510.50" y2="213.50" stroke="#8a8a8a" stroke-width="1.20"/>
<text x="488.80" y="222.90" font-size="7.80" text-anchor="middle" fill="#262626" font-weight="normal" textLength="38.30" lengthAdjust="spacingAndGlyphs">S100A8/A9</text>
<text x="489.00" y="232.20" font-size="7.80" text-anchor="middle" fill="#262626" font-weight="normal" textLength="24.40" lengthAdjust="spacingAndGlyphs">(µg/ml)</text>
<text x="368.60" y="137.40" font-size="8.20" text-anchor="middle" fill="#262626" transform="rotate(-90 368.60 137.40)" textLength="103.60" lengthAdjust="spacingAndGlyphs"><tspan>CD66b</tspan><tspan dy="-2.95" font-size="5.41">+</tspan><tspan dy="2.95">CD41</tspan><tspan dy="-2.95" font-size="5.41">+</tspan><tspan dy="2.95"> aggregates (%)</tspan></text>
<text x="9.30" y="258.80" font-size="10.60" text-anchor="start" fill="#111" font-weight="bold">D</text>
<line x1="48.10" y1="305.80" x2="48.10" y2="417.60" stroke="#4a4a4a" stroke-width="1.70"/>
<line x1="47.30" y1="417.30" x2="158.80" y2="417.30" stroke="#333" stroke-width="1.40"/>
<line x1="45.30" y1="417.00" x2="48.10" y2="417.00" stroke="#333" stroke-width="1.10"/>
<text x="41.80" y="419.95" font-size="8.30" text-anchor="end" fill="#262626" font-weight="normal" textLength="4.60" lengthAdjust="spacingAndGlyphs">0</text>
<line x1="45.30" y1="362.25" x2="48.10" y2="362.25" stroke="#333" stroke-width="1.10"/>
<text x="41.80" y="365.20" font-size="8.30" text-anchor="end" fill="#262626" font-weight="normal" textLength="9.20" lengthAdjust="spacingAndGlyphs">50</text>
<line x1="45.30" y1="307.50" x2="48.10" y2="307.50" stroke="#333" stroke-width="1.10"/>
<text x="41.80" y="310.45" font-size="8.30" text-anchor="end" fill="#262626" font-weight="normal" textLength="13.40" lengthAdjust="spacingAndGlyphs">100</text>
<rect x="57.40" y="416.12" width="15.20" height="0.88" fill="#d9d9d9"/>
<line x1="65.00" y1="417.00" x2="65.00" y2="420.40" stroke="#333" stroke-width="1.00"/>
<rect x="82.60" y="389.95" width="15.20" height="27.05" fill="#2ab5b5"/>
<line x1="90.20" y1="417.00" x2="90.20" y2="420.40" stroke="#333" stroke-width="1.00"/>
<rect x="108.20" y="368.38" width="15.20" height="48.62" fill="#237a73"/>
<line x1="115.80" y1="417.00" x2="115.80" y2="420.40" stroke="#333" stroke-width="1.00"/>
<rect x="133.50" y="341.34" width="15.20" height="75.66" fill="#2e2a7a"/>
<line x1="141.10" y1="417.00" x2="141.10" y2="420.40" stroke="#333" stroke-width="1.00"/>
<line x1="90.20" y1="361.70" x2="90.20" y2="389.95" stroke="#444" stroke-width="0.90"/>
<line x1="86.70" y1="361.70" x2="93.70" y2="361.70" stroke="#444" stroke-width="0.90"/>
<line x1="115.80" y1="332.90" x2="115.80" y2="368.38" stroke="#444" stroke-width="0.90"/>
<line x1="112.30" y1="332.90" x2="119.30" y2="332.90" stroke="#444" stroke-width="0.90"/>
<line x1="141.10" y1="308.60" x2="141.10" y2="341.34" stroke="#444" stroke-width="0.90"/>
<line x1="137.60" y1="308.60" x2="144.60" y2="308.60" stroke="#444" stroke-width="0.90"/>
<circle cx="57.00" cy="415.50" r="1.65" fill="#111"/>
<circle cx="59.00" cy="415.00" r="1.65" fill="#111"/>
<circle cx="61.00" cy="415.80" r="1.65" fill="#111"/>
<circle cx="63.00" cy="415.20" r="1.65" fill="#111"/>
<circle cx="65.00" cy="415.80" r="1.65" fill="#111"/>
<circle cx="67.00" cy="415.30" r="1.65" fill="#111"/>
<circle cx="69.00" cy="415.80" r="1.65" fill="#111"/>
<circle cx="71.00" cy="415.20" r="1.65" fill="#111"/>
<circle cx="60.00" cy="416.20" r="1.65" fill="#111"/>
<circle cx="66.00" cy="416.20" r="1.65" fill="#111"/>
<circle cx="58.50" cy="414.60" r="1.65" fill="#111"/>
<circle cx="64.50" cy="414.80" r="1.65" fill="#111"/>
<circle cx="70.00" cy="414.80" r="1.65" fill="#111"/>
<circle cx="90.50" cy="321.60" r="1.65" fill="#111"/>
<circle cx="97.00" cy="371.10" r="1.65" fill="#111"/>
<circle cx="90.50" cy="373.70" r="1.65" fill="#111"/>
<circle cx="90.50" cy="378.00" r="1.65" fill="#111"/>
<circle cx="90.50" cy="386.60" r="1.65" fill="#111"/>
<circle cx="90.50" cy="394.20" r="1.65" fill="#111"/>
<circle cx="86.60" cy="407.30" r="1.65" fill="#111"/>
<circle cx="94.20" cy="407.30" r="1.65" fill="#111"/>
<circle cx="83.40" cy="413.80" r="1.65" fill="#111"/>
<circle cx="90.50" cy="412.00" r="1.65" fill="#111"/>
<circle cx="97.00" cy="413.80" r="1.65" fill="#111"/>
<circle cx="112.10" cy="307.50" r="1.65" fill="#111"/>
<circle cx="119.00" cy="307.50" r="1.65" fill="#111"/>
<circle cx="112.10" cy="310.30" r="1.65" fill="#111"/>
<circle cx="119.00" cy="313.40" r="1.65" fill="#111"/>
<circle cx="115.70" cy="341.00" r="1.65" fill="#111"/>
<circle cx="115.70" cy="349.10" r="1.65" fill="#111"/>
<circle cx="115.70" cy="362.50" r="1.65" fill="#111"/>
<circle cx="109.30" cy="369.40" r="1.65" fill="#111"/>
<circle cx="119.00" cy="369.40" r="1.65" fill="#111"/>
<circle cx="109.30" cy="376.50" r="1.65" fill="#111"/>
<circle cx="115.70" cy="374.40" r="1.65" fill="#111"/>
<circle cx="122.20" cy="379.70" r="1.65" fill="#111"/>
<circle cx="109.30" cy="381.90" r="1.65" fill="#111"/>
<circle cx="115.70" cy="385.10" r="1.65" fill="#111"/>
<circle cx="109.30" cy="391.60" r="1.65" fill="#111"/>
<circle cx="115.70" cy="390.10" r="1.65" fill="#111"/>
<circle cx="122.20" cy="392.70" r="1.65" fill="#111"/>
<circle cx="115.70" cy="397.40" r="1.65" fill="#111"/>
<circle cx="122.20" cy="405.20" r="1.65" fill="#111"/>
<circle cx="115.70" cy="406.70" r="1.65" fill="#111"/>
<circle cx="115.70" cy="412.00" r="1.65" fill="#111"/>
<circle cx="134.20" cy="307.00" r="1.65" fill="#111"/>
<circle cx="136.80" cy="306.60" r="1.65" fill="#111"/>
<circle cx="139.20" cy="308.40" r="1.65" fill="#111"/>
<circle cx="141.00" cy="310.50" r="1.65" fill="#111"/>
<circle cx="143.40" cy="307.20" r="1.65" fill="#111"/>
<circle cx="145.80" cy="307.00" r="1.65" fill="#111"/>
<circle cx="148.20" cy="309.60" r="1.65" fill="#111"/>
<circle cx="140.80" cy="315.80" r="1.65" fill="#111"/>
<circle cx="140.60" cy="321.00" r="1.65" fill="#111"/>
<circle cx="139.40" cy="328.40" r="1.65" fill="#111"/>
<circle cx="142.70" cy="328.40" r="1.65" fill="#111"/>
<circle cx="140.50" cy="353.90" r="1.65" fill="#111"/>
<circle cx="140.50" cy="361.40" r="1.65" fill="#111"/>
<circle cx="140.10" cy="369.00" r="1.65" fill="#111"/>
<circle cx="142.20" cy="370.00" r="1.65" fill="#111"/>
<circle cx="140.50" cy="392.20" r="1.65" fill="#111"/>
<circle cx="140.50" cy="411.60" r="1.65" fill="#111"/>
<path d="M65.00,275.20 V269.40 H141.30 V275.20" fill="none" stroke="#5a5a5a" stroke-width="1.2"/>
<circle cx="95.17" cy="264.60" r="1.25" fill="#2a2a2a"/>
<circle cx="98.92" cy="264.60" r="1.25" fill="#2a2a2a"/>
<circle cx="102.67" cy="264.60" r="1.25" fill="#2a2a2a"/>
<circle cx="106.42" cy="264.60" r="1.25" fill="#2a2a2a"/>
<path d="M65.00,295.40 V289.20 H115.80 V295.40" fill="none" stroke="#5a5a5a" stroke-width="1.2"/>
<circle cx="83.17" cy="282.90" r="1.25" fill="#2a2a2a"/>
<circle cx="86.92" cy="282.90" r="1.25" fill="#2a2a2a"/>
<circle cx="90.67" cy="282.90" r="1.25" fill="#2a2a2a"/>
<circle cx="94.42" cy="282.90" r="1.25" fill="#2a2a2a"/>
<path d="M65.00,315.20 V309.40 H90.40 V315.20" fill="none" stroke="#5a5a5a" stroke-width="1.2"/>
<circle cx="76.42" cy="304.00" r="1.25" fill="#2a2a2a"/>
<circle cx="80.17" cy="304.00" r="1.25" fill="#2a2a2a"/>
<text x="65.00" y="430.30" font-size="8.40" text-anchor="middle" fill="#262626" font-weight="normal" textLength="28.40" lengthAdjust="spacingAndGlyphs">Control</text>
<text x="90.20" y="430.30" font-size="8.40" text-anchor="middle" fill="#262626" font-weight="normal" textLength="9.00" lengthAdjust="spacingAndGlyphs">10</text>
<text x="115.80" y="430.30" font-size="8.40" text-anchor="middle" fill="#262626" font-weight="normal" textLength="9.00" lengthAdjust="spacingAndGlyphs">20</text>
<text x="141.10" y="430.30" font-size="8.40" text-anchor="middle" fill="#262626" font-weight="normal" textLength="9.40" lengthAdjust="spacingAndGlyphs">40</text>
<line x1="86.20" y1="437.30" x2="146.50" y2="437.30" stroke="#8a8a8a" stroke-width="1.20"/>
<text x="117.50" y="447.30" font-size="7.80" text-anchor="middle" fill="#262626" font-weight="normal" textLength="39.40" lengthAdjust="spacingAndGlyphs">S100A8/A9</text>
<text x="117.50" y="455.60" font-size="7.80" text-anchor="middle" fill="#262626" font-weight="normal" textLength="24.60" lengthAdjust="spacingAndGlyphs">(µg/ml)</text>
<text x="20.70" y="362.80" font-size="8.60" text-anchor="middle" fill="#262626" transform="rotate(-90 20.70 362.80)" textLength="86.50" lengthAdjust="spacingAndGlyphs"><tspan>CD41</tspan><tspan dy="-3.10" font-size="5.68">+</tspan><tspan dy="3.10">CD61</tspan><tspan dy="-3.10" font-size="5.68">+</tspan><tspan dy="3.10">PAC-1</tspan><tspan dy="-3.10" font-size="5.68">+</tspan><tspan dy="3.10"> (%)</tspan></text>
<text x="185.00" y="258.80" font-size="10.60" text-anchor="start" fill="#111" font-weight="bold">E</text>
<text x="214.60" y="273.70" font-size="7.70" text-anchor="start" fill="#262626" font-weight="normal" textLength="20.20" lengthAdjust="spacingAndGlyphs">Buffer</text>
<text x="214.60" y="283.00" font-size="7.70" text-anchor="start" fill="#262626" font-weight="normal" textLength="38.00" lengthAdjust="spacingAndGlyphs">S100A8/A9</text>
<text x="214.60" y="291.80" font-size="7.70" text-anchor="start" fill="#262626" font-weight="normal" textLength="13.60" lengthAdjust="spacingAndGlyphs">CRP</text>
<line x1="219.50" y1="296.00" x2="219.50" y2="326.50" stroke="#333" stroke-width="0.90"/>
<polygon points="217.3,325.6 221.7,325.6 219.5,330.8" fill="#222"/>
<path d="M217.6,334.2 L219.5,333.4 L221.5,334.6 L224,335.6 L240,337.6 L265,340.4 L290,343.1 L320,345.9 L348,348.4" fill="none" stroke="#111" stroke-width="1.6" stroke-dasharray="2.6 0.55"/>
<path d="M217.6,334.8 L219.5,333.8 L222,334.8 L225,335.8 L240,337.4 L270,339.8 L290,341.3 L320,342.5 L348,343.1" fill="none" stroke="#333" stroke-width="1.0"/>
<path d="M217.6,335.2 L221.5,336.8 L226.2,337.6 C226.9,345 227.5,356 228.2,364 C228.9,371 229.8,377 231.7,381.5 C234.0,386.5 237.5,390 242.5,392.8 C250,396 262,398.4 275,400.1 C295,401.6 325,400 348,398.5" fill="none" stroke="#2a2a2a" stroke-width="1.05"/>
<text x="351.00" y="343.10" font-size="7.70" text-anchor="start" fill="#262626" font-weight="normal" textLength="25.60" lengthAdjust="spacingAndGlyphs">Control</text>
<text x="351.00" y="351.80" font-size="7.70" text-anchor="start" fill="#262626" font-weight="normal" textLength="38.20" lengthAdjust="spacingAndGlyphs">S100A8/A9</text>
<text x="351.00" y="400.60" font-size="7.70" text-anchor="start" fill="#262626" font-weight="normal" textLength="13.80" lengthAdjust="spacingAndGlyphs">CRP</text>
<path d="M216.5,386.2 V410.3 H246.6" fill="none" stroke="#222" stroke-width="1.2"/>
<text x="212.50" y="398.20" font-size="9.80" text-anchor="middle" fill="#262626" font-weight="normal" transform="rotate(-90 212.50 398.20)" textLength="14.80" lengthAdjust="spacingAndGlyphs">30%</text>
<text x="222.50" y="419.60" font-size="8.60" text-anchor="start" fill="#262626" font-weight="normal" textLength="18.60" lengthAdjust="spacingAndGlyphs">5 min</text>
<text x="192.90" y="360.00" font-size="7.90" text-anchor="middle" fill="#262626" font-weight="normal" transform="rotate(-90 192.90 360.00)" textLength="56.00" lengthAdjust="spacingAndGlyphs">Aggregation (%)</text>
<text x="409.90" y="258.90" font-size="10.60" text-anchor="start" fill="#111" font-weight="bold">F</text>
<line x1="445.00" y1="306.80" x2="445.00" y2="417.80" stroke="#2a2a2a" stroke-width="1.50"/>
<line x1="444.20" y1="417.20" x2="518.70" y2="417.20" stroke="#222" stroke-width="1.40"/>
<line x1="442.20" y1="417.20" x2="445.00" y2="417.20" stroke="#333" stroke-width="1.10"/>
<text x="440.40" y="420.20" font-size="8.60" text-anchor="end" fill="#262626" font-weight="normal" textLength="5.00" lengthAdjust="spacingAndGlyphs">0</text>
<line x1="442.20" y1="362.85" x2="445.00" y2="362.85" stroke="#333" stroke-width="1.10"/>
<text x="440.40" y="365.85" font-size="8.60" text-anchor="end" fill="#262626" font-weight="normal" textLength="10.60" lengthAdjust="spacingAndGlyphs">50</text>
<line x1="442.20" y1="308.50" x2="445.00" y2="308.50" stroke="#333" stroke-width="1.10"/>
<text x="440.40" y="311.50" font-size="8.60" text-anchor="end" fill="#262626" font-weight="normal" textLength="15.00" lengthAdjust="spacingAndGlyphs">100</text>
<defs><pattern id="hb" patternUnits="userSpaceOnUse" width="3.3" height="3.3" patternTransform="rotate(45)"><rect width="3.3" height="3.3" fill="#c2d9f2"/><rect width="1.05" height="3.3" fill="#46698f"/></pattern><pattern id="hg" patternUnits="userSpaceOnUse" width="3.3" height="3.3" patternTransform="rotate(45)"><rect width="3.3" height="3.3" fill="#e4e4e4"/><rect width="1.0" height="3.3" fill="#8a8a8a"/></pattern></defs>
<rect x="453.50" y="409.59" width="12.80" height="7.61" fill="url(#hg)"/>
<rect x="475.00" y="316.22" width="12.80" height="100.98" fill="url(#hb)"/>
<rect x="497.20" y="409.81" width="12.80" height="7.39" fill="#2a2870"/>
<line x1="459.90" y1="417.20" x2="459.90" y2="420.40" stroke="#333" stroke-width="1.00"/>
<line x1="481.40" y1="417.20" x2="481.40" y2="420.40" stroke="#333" stroke-width="1.00"/>
<line x1="503.60" y1="417.20" x2="503.60" y2="420.40" stroke="#333" stroke-width="1.00"/>
<line x1="503.60" y1="401.60" x2="503.60" y2="409.80" stroke="#333" stroke-width="0.90"/>
<line x1="501.60" y1="401.60" x2="505.60" y2="401.60" stroke="#333" stroke-width="0.90"/>
<line x1="481.50" y1="307.00" x2="481.50" y2="316.00" stroke="#333" stroke-width="0.90"/>
<circle cx="454.50" cy="413.10" r="1.75" fill="#111"/>
<circle cx="459.90" cy="409.30" r="1.75" fill="#111"/>
<circle cx="465.30" cy="411.40" r="1.75" fill="#111"/>
<rect x="479.85" y="306.15" width="3.30" height="3.30" fill="#111"/>
<rect x="479.85" y="312.25" width="3.30" height="3.30" fill="#111"/>
<circle cx="481.50" cy="323.50" r="1.85" fill="#111"/>
<circle cx="503.60" cy="404.20" r="1.60" fill="#111"/>
<path d="M459.60,294.70 V288.90 H482.00 V294.70" fill="none" stroke="#5a5a5a" stroke-width="1.2"/>
<circle cx="470.40" cy="283.80" r="1.25" fill="#2a2a2a"/>
<text x="463.30" y="427.30" font-size="8.60" text-anchor="end" fill="#262626" font-weight="normal" transform="rotate(-45 463.30 427.30)" textLength="29.80" lengthAdjust="spacingAndGlyphs">Control</text>
<text x="484.80" y="427.30" font-size="8.60" text-anchor="end" fill="#262626" font-weight="normal" transform="rotate(-45 484.80 427.30)" textLength="16.00" lengthAdjust="spacingAndGlyphs">CRP</text>
<text x="507.00" y="427.30" font-size="8.60" text-anchor="end" fill="#262626" font-weight="normal" transform="rotate(-45 507.00 427.30)" textLength="43.50" lengthAdjust="spacingAndGlyphs">S100A8/A9</text>
<text x="417.80" y="366.40" font-size="8.70" text-anchor="middle" fill="#262626" font-weight="normal" transform="rotate(-90 417.80 366.40)" textLength="83.20" lengthAdjust="spacingAndGlyphs">Aggregation amplitude (%)</text>
<text x="188.40" y="451.40" font-size="10.60" text-anchor="start" fill="#111" font-weight="bold">G</text>
<text x="196.40" y="487.50" font-size="8.20" text-anchor="middle" fill="#262626" font-weight="normal" transform="rotate(-90 196.40 487.50)" textLength="30.60" lengthAdjust="spacingAndGlyphs">ATP (nM)</text>
<line x1="215.80" y1="491.50" x2="215.80" y2="519.50" stroke="#8a90b8" stroke-width="0.80"/>
<path d="M215.8,497.4 L215.8,514.1 L220.0,514.1" fill="none" stroke="#e0707a" stroke-width="0.8"/>
<path d="M220.0,514.1 L222.6,455.5 Q223.4,451.2 224.4,450.88 L225.20,453.39 L226.00,455.75 L226.80,457.97 L227.60,460.07 L228.40,462.05 L229.20,463.92 L230.00,465.68 L230.80,467.35 L231.60,468.93 L232.40,470.43 L233.20,471.85 L234.00,473.20 L234.80,474.47 L235.60,475.69 L236.40,476.84 L237.20,477.94 L238.00,478.99 L238.80,479.99 L239.60,480.94 L240.40,481.85 L241.20,482.72 L242.00,483.55 L242.80,484.35 L243.60,485.11 L244.40,485.84 L245.20,486.54 L246.00,487.22 L246.80,487.87 L247.60,488.49 L248.40,489.09 L249.20,489.67 L250.00,490.23 L250.80,490.77 L251.60,491.29 L252.40,491.80 L253.20,492.29 L254.00,492.76 L254.80,493.22 L255.60,493.66 L256.40,494.09 L257.20,494.51 L258.00,494.92 L258.80,495.31 L259.60,495.70 L260.40,496.07 L261.20,496.44 L262.00,496.79 L262.80,497.14 L263.60,497.48 L264.40,497.81 L265.20,498.13 L266.00,498.44 L266.80,498.75 L267.60,499.05 L268.40,499.34 L269.20,499.63 L270.00,499.91 L270.80,500.18 L271.60,500.45 L272.40,500.72 L273.20,500.98 L274.00,501.23 L274.80,501.48 L275.60,501.72 L276.40,501.96 L277.20,502.19 L278.00,502.42 L278.80,502.65 L279.60,502.87 L280.40,503.09 L281.20,503.30 L282.00,503.51 L282.80,503.71 L283.60,503.92 L284.40,504.11 L285.20,504.31 L286.00,504.50 L286.80,504.69 L287.60,504.87 L288.40,505.06 L289.20,505.24 L290.00,505.41 L290.80,505.59 L291.60,505.76 L292.40,505.92 L293.20,506.09 L294.00,506.25 L294.80,506.41 L295.60,506.57 L296.40,506.72 L297.20,506.87 L298.00,507.02 L298.80,507.17 L299.60,507.31 L300.40,507.46 L301.20,507.60 L302.00,507.73 L302.80,507.87 L303.60,508.00 L304.40,508.14 L305.20,508.27 L306.00,508.39 L306.80,508.52 L307.60,508.64 L308.40,508.76 L309.20,508.88 L310.00,509.00 L310.80,509.12 L311.60,509.23 L312.40,509.34 L313.20,509.46 L314.00,509.56 L314.80,509.67 L315.60,509.78 L316.40,509.88 L317.20,509.99 L318.00,510.09 L318.80,510.19 L319.60,510.28 L320.40,510.38 L321.20,510.48 L322.00,510.57 L322.80,510.66 L323.60,510.75 L324.40,510.84 L325.20,510.93 L326.00,511.02 L326.80,511.10 L327.60,511.19 L328.40,511.27 L329.20,511.35 L330.00,511.43 L330.80,511.51 L331.60,511.59 L332.40,511.66 L333.20,511.74 L334.00,511.81 L334.80,511.89 L335.60,511.96 L336.40,512.03 L337.20,512.10 L338.00,512.17 L338.80,512.24 L339.60,512.30 L340.40,512.37 L341.20,512.44 L342.00,512.50 L342.80,512.56 L343.60,512.62 L344.40,512.69 L345.20,512.75 L346.00,512.81 L346.80,512.86 L347.60,512.92 L348.40,512.98 L349.20,513.03 L350.00,513.09 L350.80,513.14 L351.60,513.20 L352.40,513.25 L353.20,513.30 L354.00,513.35 L354.80,513.40 L355.60,513.45" fill="none" stroke="#e5323f" stroke-width="1.1" stroke-linejoin="round"/>
<path d="M262.00,496.79 L262.80,497.14 L263.60,497.48 L264.40,497.81 L265.20,498.13 L266.00,498.44 L266.80,498.75 L267.60,499.05 L268.40,499.34 L269.20,499.63 L270.00,499.91 L270.80,500.18 L271.60,500.45 L272.40,500.72 L273.20,500.98 L274.00,501.23 L274.80,501.48 L275.60,501.72 L276.40,501.96 L277.20,502.19 L278.00,502.42 L278.80,502.65 L279.60,502.87 L280.40,503.09 L281.20,503.30 L282.00,503.51 L282.80,503.71 L283.60,503.92 L284.40,504.11 L285.20,504.31 L286.00,504.50 L286.80,504.69 L287.60,504.87 L288.40,505.06 L289.20,505.24 L290.00,505.41 L290.80,505.59 L291.60,505.76 L292.40,505.92 L293.20,506.09 L294.00,506.25 L294.80,506.41 L295.60,506.57 L296.40,506.72 L297.20,506.87 L298.00,507.02 L298.80,507.17 L299.60,507.31 L300.40,507.46 L301.20,507.60 L302.00,507.73 L302.80,507.87 L303.60,508.00 L304.40,508.14 L305.20,508.27 L306.00,508.39 L306.80,508.52 L307.60,508.64 L308.40,508.76 L309.20,508.88 L310.00,509.00 L310.80,509.12 L311.60,509.23 L312.40,509.34 L313.20,509.46 L314.00,509.56 L314.80,509.67 L315.60,509.78 L316.40,509.88 L317.20,509.99 L318.00,510.09 L318.80,510.19 L319.60,510.28 L320.40,510.38 L321.20,510.48 L322.00,510.57 L322.80,510.66 L323.60,510.75 L324.40,510.84 L325.20,510.93 L326.00,511.02 L326.80,511.10 L327.60,511.19 L328.40,511.27 L329.20,511.35 L330.00,511.43 L330.80,511.51 L331.60,511.59 L332.40,511.66 L333.20,511.74 L334.00,511.81 L334.80,511.89 L335.60,511.96 L336.40,512.03 L337.20,512.10 L338.00,512.17 L338.80,512.24 L339.60,512.30 L340.40,512.37 L341.20,512.44 L342.00,512.50 L342.80,512.56 L343.60,512.62 L344.40,512.69 L345.20,512.75 L346.00,512.81 L346.80,512.86 L347.60,512.92 L348.40,512.98 L349.20,513.03 L350.00,513.09 L350.80,513.14 L351.60,513.20 L352.40,513.25 L353.20,513.30 L354.00,513.35 L354.80,513.40 L355.60,513.45" fill="none" stroke="#d21f2f" stroke-width="1.7" stroke-dasharray="3 4.5"/>
<path d="M215.8,496.6 L219.5,497.9 L300,498.9 L359.2,499.4" fill="none" stroke="#2a2a2a" stroke-width="1.0"/>
<path d="M215.8,495.8 L220.5,497.6 L220.5,498.6 L215.8,498.6 Z" fill="#111"/>
<path d="M232,498.1 L300,498.9" fill="none" stroke="#111" stroke-width="1.8" stroke-dasharray="6 1"/>
<path d="M300,498.9 L359.2,499.4" fill="none" stroke="#111" stroke-width="1.6" stroke-dasharray="1.5 2.6"/>
<path d="M215.8,493.0 L218.2,492.6 L223.8,489.2 L238.8,497.3  C240.67,497.63 245.80,498.72 250.00,499.30 C254.20,499.88 255.67,500.17 264.00,500.80 C272.33,501.43 289.00,502.48 300.00,503.10 C311.00,503.72 320.67,504.10 330.00,504.50 C339.33,504.90 351.67,505.33 356.00,505.50" fill="none" stroke="#3a4aa2" stroke-width="1.0" stroke-linejoin="round"/>
<path d="M264.00,500.80 C270.00,501.18 289.00,502.48 300.00,503.10 C311.00,503.72 320.67,504.10 330.00,504.50 C339.33,504.90 351.67,505.33 356.00,505.50" fill="none" stroke="#26337f" stroke-width="1.5" stroke-dasharray="5 6"/>
<line x1="362.30" y1="499.60" x2="373.00" y2="499.60" stroke="#333" stroke-width="0.90"/>
<line x1="362.30" y1="506.00" x2="373.00" y2="506.00" stroke="#3a4aa2" stroke-width="0.90"/>
<line x1="362.30" y1="513.20" x2="373.00" y2="513.20" stroke="#e5323f" stroke-width="0.90"/>
<text x="376.90" y="500.60" font-size="7.40" text-anchor="start" fill="#262626" font-weight="normal" textLength="25.40" lengthAdjust="spacingAndGlyphs">Control</text>
<text x="376.90" y="508.30" font-size="7.40" text-anchor="start" fill="#262626" font-weight="normal" textLength="38.80" lengthAdjust="spacingAndGlyphs">S100A8/A9</text>
<text x="376.90" y="515.20" font-size="7.40" text-anchor="start" fill="#262626" font-weight="normal" textLength="14.20" lengthAdjust="spacingAndGlyphs">CRP</text>
<path d="M214,521.5 V545.2 H243.1" fill="none" stroke="#222" stroke-width="1.2"/>
<text x="210.00" y="533.10" font-size="9.80" text-anchor="middle" fill="#262626" font-weight="normal" transform="rotate(-90 210.00 533.10)" textLength="10.80" lengthAdjust="spacingAndGlyphs">0.3</text>
<text x="220.10" y="553.50" font-size="8.60" text-anchor="start" fill="#262626" font-weight="normal" textLength="18.30" lengthAdjust="spacingAndGlyphs">5 min</text>
</svg></body></html>
